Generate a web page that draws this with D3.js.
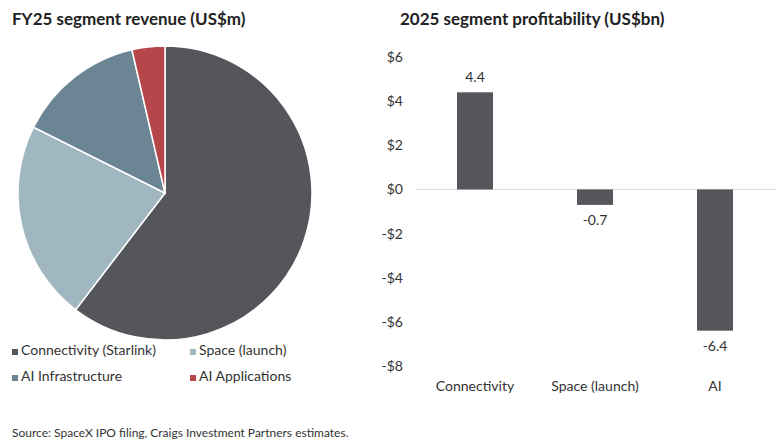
<!DOCTYPE html><html><head><meta charset="utf-8"><script src="https://cdn.jsdelivr.net/npm/d3@7"></script>
<style>body{margin:0;background:#fff}text{font-family:Lato,"Open Sans",sans-serif}</style></head><body>
<svg id="c" width="780" height="446"></svg>
<script>
const pieLabels=["Connectivity (Starlink)","Space (launch)","AI Infrastructure","AI Applications"];
const pieValues=[9700,3530,2250,580];
const pieColors=["#54565c","#a0b6c1","#6b8595","#b5474b"];
const barCats=["Connectivity","Space (launch)","AI"];
const barValues=[4.4,-0.7,-6.4];
const yTicks=[6,4,2,0,-2,-4,-6,-8];
const svg=d3.select("#c");
svg.append("text").attr("x",12).attr("y",25).attr("font-size",17).attr("font-weight","bold").attr("fill","#222").text("FY25 segment revenue (US$m)");
svg.append("text").attr("x",400).attr("y",25).attr("font-size",17).attr("font-weight","bold").attr("fill","#222").text("2025 segment profitability (US$bn)");
const pie=d3.pie().sort(null)(pieValues);
const arc=d3.arc().innerRadius(0).outerRadius(147);
svg.append("g").attr("transform","translate(165,193)").selectAll("path").data(pie).join("path")
 .attr("d",arc).attr("fill",(d,i)=>pieColors[i]).attr("stroke","#fff").attr("stroke-width",1.5);
const lp=[[12,355],[190,355],[12,381],[190,381]];
pieLabels.forEach((l,i)=>{const g=svg.append("g").attr("transform",`translate(${lp[i][0]},${lp[i][1]})`);
 g.append("rect").attr("x",0).attr("y",-6).attr("width",6).attr("height",6).attr("fill",pieColors[i]);
 g.append("text").attr("x",9).attr("y",0).attr("font-size",14).attr("fill","#333").text(l);});
const y=d3.scaleLinear().domain([-8,6]).range([366,57]);
const x=d3.scaleBand().domain(barCats).range([415,775]).paddingInner(0.7).paddingOuter(0.35);
svg.append("line").attr("x1",415).attr("x2",775).attr("y1",y(0)).attr("y2",y(0)).attr("stroke","#d9d9d9");
yTicks.forEach(t=>svg.append("text").attr("x",403).attr("y",y(t)+5).attr("text-anchor","end").attr("font-size",14).attr("fill","#333").text((t<0?"-$":"$")+Math.abs(t)));
barCats.forEach((c,i)=>{const v=barValues[i];
 svg.append("rect").attr("x",x(c)).attr("width",x.bandwidth()).attr("y",y(Math.max(0,v))).attr("height",Math.abs(y(v)-y(0))).attr("fill","#54565c");
 svg.append("text").attr("x",x(c)+x.bandwidth()/2).attr("y",v>0?y(v)-10:y(v)+20).attr("text-anchor","middle").attr("font-size",14).attr("fill","#333").text(v.toFixed(1));
 svg.append("text").attr("x",x(c)+x.bandwidth()/2).attr("y",391).attr("text-anchor","middle").attr("font-size",14).attr("fill","#333").text(c);});
svg.append("text").attr("x",12).attr("y",437).attr("font-size",12).attr("fill","#333").text("Source: SpaceX IPO filing, Craigs Investment Partners estimates.");
</script></body></html>
